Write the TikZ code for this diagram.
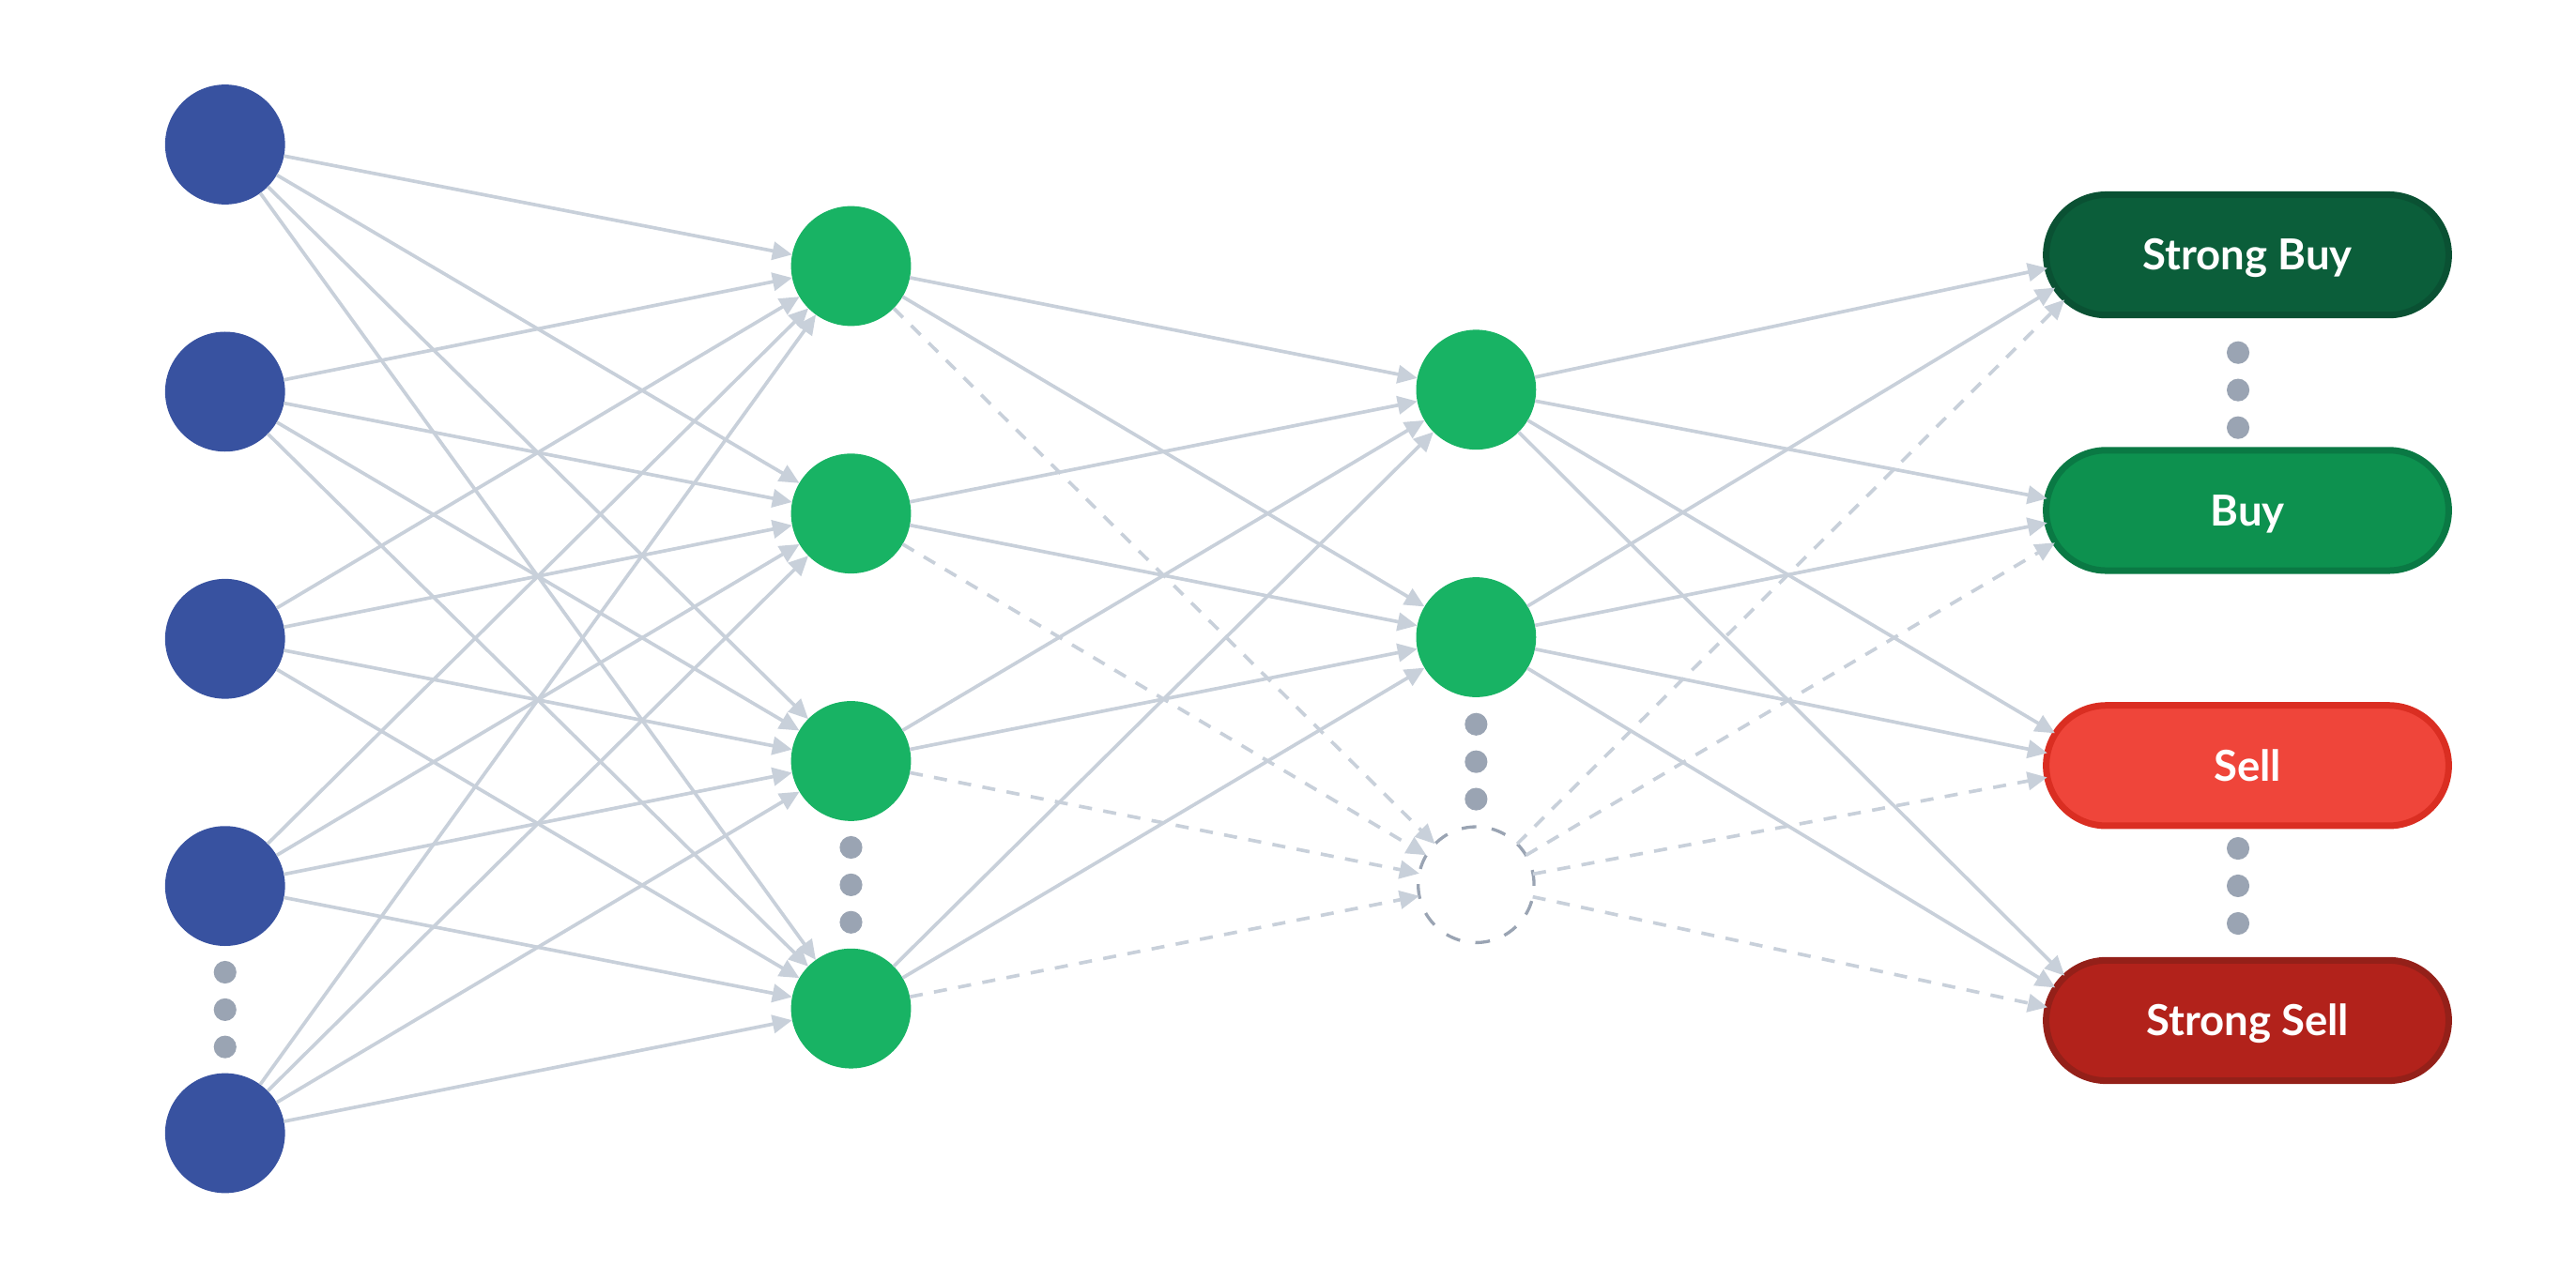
\documentclass[tikz,border=0pt]{standalone}
\usepackage{fontspec}
\setmainfont{Lato}
\newfontfamily\labelfont{Lato}
\usepackage{tikz}
\usetikzlibrary{arrows.meta}
\usetikzlibrary{shapes.misc}
\usetikzlibrary{positioning, calc}
\definecolor{inblue}{HTML}{3852A0}
\definecolor{hidgreen}{HTML}{18B364}
\definecolor{edgegray}{HTML}{C8D0DA}
\definecolor{dotgray}{HTML}{9AA4B3}
\definecolor{sbfill}{HTML}{0B5E3A}
\definecolor{sbline}{HTML}{0A5133}
\definecolor{bfill}{HTML}{0D914F}
\definecolor{bline}{HTML}{0A7944}
\definecolor{sfill}{HTML}{EF453A}
\definecolor{sline}{HTML}{DA2E22}
\definecolor{ssfill}{HTML}{B2221B}
\definecolor{ssline}{HTML}{942019}

\begin{document}
\begin{tikzpicture}[x=1pt, y=-1pt,
    unit/.style={circle, minimum size=73pt, inner sep=0pt, outer sep=0pt},
    inunit/.style={unit, fill=inblue},
    hunit/.style={unit, fill=hidgreen},
    ghost/.style={unit, minimum size=70.5pt, draw=dotgray, line width=1.9pt, dash pattern=on 9pt off 9.4pt},
    endcap/.style={circle, minimum size=77.3pt, inner sep=0pt, outer sep=0pt},
    signal/.style={rounded rectangle, minimum width=245pt, minimum height=73.3pt,
        line width=4pt, inner sep=0pt, outer sep=0pt, text=white,
        text height=18.5pt, text depth=0pt,
        font=\labelfont\bfseries\fontsize{26}{31}\selectfont},
    link/.style={draw=edgegray, line width=2.1pt, -{Triangle[length=12pt, width=11pt]}},
    dlink/.style={link, dash pattern=on 8pt off 7pt}]
\useasboundingbox (0,0) rectangle (1568,770);

% input layer
\foreach \y [count=\i] in {88, 238.5, 389, 539.5, 690}
    \node[inunit] (i\i) at (137,\y) {};

% hidden layers
\foreach \y [count=\i] in {162, 312.7, 463.4, 614.1}
    \node[hunit] (h\i) at (518,\y) {};

\node[hunit] (g1) at (898.5,237.3) {};
\node[hunit] (g2) at (898.5,388) {};
\node[ghost] (g3) at (898.5,538.7) {};

% outputs
\node[signal, fill=sbfill, draw=sbline] (o1) at (1368,155.2) {Strong Buy};
\node[signal, fill=bfill, draw=bline] (o2) at (1368,310.8) {Buy};
\node[signal, fill=sfill, draw=sline] (o3) at (1368,466.2) {Sell};
\node[signal, fill=ssfill, draw=ssline] (o4) at (1368,621.4) {Strong Sell};

% left ends of the outputs, where the arrows land
\foreach \b in {1,...,4}
    \node[endcap] (c\b) at ($(o\b.west)+(38.6,0)$) {};

\foreach \x/\y in {
    137/592, 137/614.8, 137/637.5,
    518/516, 518/538.8, 518/561.6,
    898.5/441, 898.5/463.8, 898.5/486.6,
    1362.3/214.7, 1362.3/237.5, 1362.3/260.4,
    1362.3/516.6, 1362.3/539.4, 1362.3/562.3}
    \fill[dotgray] (\x,\y) circle (6.9pt);

\foreach \a in {1,...,5}
    \foreach \b in {1,...,4}
        \draw[link] (i\a) -- (h\b);

\foreach \a in {1,...,4} {
    \draw[link] (h\a) -- (g1);
    \draw[link] (h\a) -- (g2);
    \draw[dlink] (h\a) -- (g3);
}

\foreach \b in {1,...,4} {
    \draw[link] (g1) -- (c\b);
    \draw[link] (g2) -- (c\b);
    \draw[dlink] (g3) -- (c\b);
}

\end{tikzpicture}
\end{document}
